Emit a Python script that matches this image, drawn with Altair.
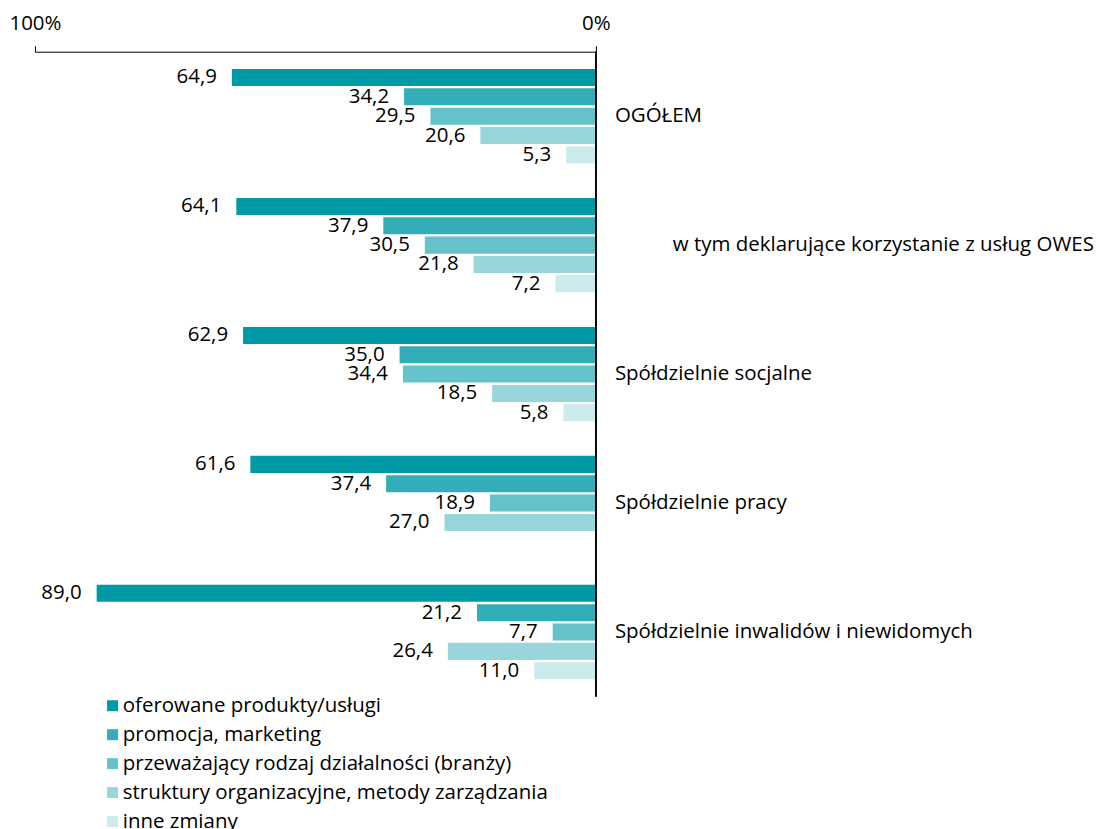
import altair as alt
import pandas as pd

categories = [
    "OGÓŁEM",
    "w tym deklarujące korzystanie z usług OWES",
    "Spółdzielnie socjalne",
    "Spółdzielnie pracy",
    "Spółdzielnie inwalidów i niewidomych",
]
series = [
    "oferowane produkty/usługi",
    "promocja, marketing",
    "przeważający rodzaj działalności (branży)",
    "struktury organizacyjne, metody zarządzania",
    "inne zmiany",
]
s_oferowane = [64.9, 64.1, 62.9, 61.6, 89.0]
s_promocja = [34.2, 37.9, 35.0, 37.4, 21.2]
s_rodzaj = [29.5, 30.5, 34.4, 18.9, 7.7]
s_struktury = [20.6, 21.8, 18.5, 27.0, 26.4]
s_inne = [5.3, 7.2, 5.8, None, 11.0]
colors = ["#009aa6", "#33aeb8", "#66c2ca", "#99d6db", "#cbebed"]

FONT = "Open Sans"
FS = 20.5

rows = []
for s, vals in zip(series, [s_oferowane, s_promocja, s_rodzaj, s_struktury, s_inne]):
    for c, v in zip(categories, vals):
        if v is not None:
            rows.append({"cat": c, "series": s, "value": v})
df = pd.DataFrame(rows)
cat_df = pd.DataFrame({"cat": categories})

W, H = 562, 646

x_enc = alt.X(
    "value:Q",
    scale=alt.Scale(domain=[0, 100], reverse=True, nice=False),
    axis=alt.Axis(
        orient="top", values=[0, 100], labelExpr="datum.value + '%'",
        tickSize=6, grid=False, domainColor="black", tickColor="black",
        labelColor="black", labelFontSize=FS, labelFont=FONT, labelPadding=12,
        labelFlush=False, title=None,
    ),
)
y_scale = alt.Scale(domain=categories, paddingInner=0.268, paddingOuter=0.134)
y_enc = alt.Y("cat:N", sort=categories, scale=y_scale, axis=None)
yoff = alt.YOffset(
    "series:N", sort=series,
    scale=alt.Scale(domain=series, paddingInner=0.12, paddingOuter=0),
)

base = alt.Chart(df)

bars = base.mark_bar().encode(
    x=x_enc,
    y=y_enc,
    yOffset=yoff,
    color=alt.Color(
        "series:N", sort=series,
        scale=alt.Scale(domain=series, range=colors),
        legend=alt.Legend(
            orient="none", legendX=67.5, legendY=645, title=None,
            symbolType="square", symbolSize=121, symbolStrokeWidth=0,
            symbolOpacity=1, labelFontSize=FS, labelFont=FONT, labelColor="black",
            labelOffset=0, rowPadding=8, padding=0, labelLimit=700,
            labelExpr="(datum.label == 'oferowane produkty/usługi' || datum.label == 'inne zmiany') ? '\u00a0' + datum.label : datum.label",
        ),
    ),
)

text = base.transform_calculate(
    lab="replace(format(datum.value, '.1f'), '.', ',')"
).mark_text(align="right", baseline="middle", dx=-15, fontSize=FS, font=FONT, color="black").encode(
    x=alt.X("value:Q"),
    y=alt.Y("cat:N", sort=categories, axis=None),
    yOffset=alt.YOffset("series:N", sort=series),
    text="lab:N",
)

zero_rule = alt.Chart(cat_df).mark_rule(color="black", strokeWidth=1).encode(
    x=alt.datum(0)
)

cat_main = alt.Chart(cat_df).transform_filter(
    alt.datum.cat != categories[1]
).mark_text(align="left", baseline="middle", dx=19, fontSize=FS, font=FONT, color="black").encode(
    x=alt.datum(0), y=alt.Y("cat:N", sort=categories, axis=None), text="cat:N"
)
cat_owes = alt.Chart(cat_df).transform_filter(
    alt.datum.cat == categories[1]
).mark_text(align="left", baseline="middle", dx=77, fontSize=FS, font=FONT, color="black").encode(
    x=alt.datum(0), y=alt.Y("cat:N", sort=categories, axis=None), text="cat:N"
)

chart = alt.layer(bars, text, zero_rule, cat_main, cat_owes).properties(
    width=W, height=H,
    autosize=alt.AutoSizeParams(type="none"),
    padding={"left": 27, "top": 43, "right": 500, "bottom": 150},
).configure(font=FONT).configure_view(stroke=None)

chart.save("out.html", embed_options={"renderer": "svg", "actions": False})
